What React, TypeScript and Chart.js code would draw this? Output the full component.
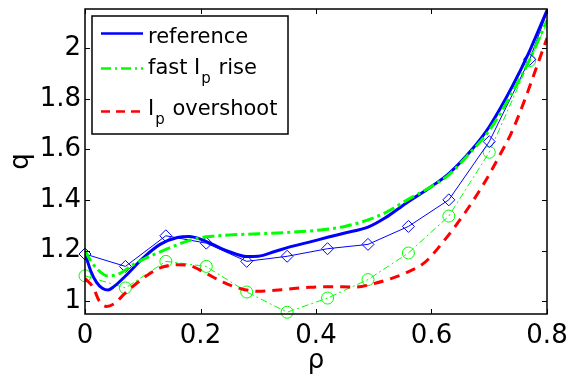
import React, { useEffect, useRef } from "react";
import { Chart, registerables } from "chart.js";
Chart.register(...registerables);

// ---- data ----
const xTicks = [0, 0.2, 0.4, 0.6, 0.8];
const yTicks = [1, 1.2, 1.4, 1.6, 1.8, 2];

const refRho = [0, 0.01, 0.02, 0.03, 0.04, 0.05, 0.07, 0.1, 0.13, 0.16, 0.18, 0.2, 0.22, 0.25, 0.28, 0.3, 0.33, 0.36, 0.39, 0.42, 0.45, 0.49, 0.52, 0.556, 0.6, 0.63, 0.67, 0.7, 0.74, 0.77, 0.8];
const refQ = [1.19, 1.12, 1.075, 1.052, 1.045, 1.058, 1.1, 1.17, 1.225, 1.252, 1.256, 1.246, 1.226, 1.196, 1.177, 1.178, 1.198, 1.218, 1.235, 1.253, 1.27, 1.293, 1.33, 1.388, 1.454, 1.505, 1.6, 1.69, 1.85, 1.99, 2.15];

const fastRho = [0, 0.01, 0.02, 0.04, 0.06, 0.08, 0.1, 0.14, 0.18, 0.21, 0.25, 0.3, 0.35, 0.4, 0.45, 0.49, 0.52, 0.556, 0.6, 0.63, 0.67, 0.7, 0.74, 0.77, 0.8];
const fastQ = [1.2, 1.16, 1.13, 1.1, 1.11, 1.14, 1.165, 1.205, 1.24, 1.255, 1.262, 1.267, 1.272, 1.28, 1.296, 1.322, 1.35, 1.398, 1.454, 1.5, 1.595, 1.675, 1.825, 1.955, 2.11];

const overRho = [0, 0.014, 0.025, 0.037, 0.05, 0.07, 0.1, 0.13, 0.16, 0.18, 0.21, 0.24, 0.27, 0.3, 0.34, 0.39, 0.42, 0.47, 0.5, 0.53, 0.556, 0.589, 0.623, 0.658, 0.692, 0.72, 0.738, 0.752, 0.767, 0.778, 0.8];
const overQ = [1.09, 1.055, 1.0, 0.98, 0.99, 1.033, 1.09, 1.132, 1.145, 1.142, 1.11, 1.075, 1.05, 1.04, 1.046, 1.056, 1.058, 1.057, 1.07, 1.09, 1.113, 1.155, 1.243, 1.35, 1.47, 1.585, 1.664, 1.74, 1.83, 1.9, 2.04];

const markRho = [0, 0.07, 0.14, 0.21, 0.28, 0.35, 0.42, 0.49, 0.56, 0.63, 0.7, 0.77, 0.8];
const refMarkQ = [1.187, 1.138, 1.259, 1.23, 1.158, 1.178, 1.208, 1.225, 1.296, 1.401, 1.631, 1.956, 2.14];
const fastMarkQ = [1.101, 1.053, 1.158, 1.138, 1.037, 0.957, 1.013, 1.086, 1.191, 1.337, 1.589, 1.951, 2.1];

const FONT = "'DejaVu Sans', sans-serif";
const BLUE = "#0000ff";
const GREEN = "#00ff00";
const RED = "#ff0000";

const pts = (xs: number[], ys: number[]) => xs.map((x, i) => ({ x, y: ys[i] }));

const boxPlugin = {
  id: "boxTicks",
  afterDatasetsDraw(chart: any) {
    const { ctx, chartArea: a, scales } = chart;
    ctx.save();
    ctx.strokeStyle = "#000";
    ctx.lineWidth = 1.5;
    ctx.strokeRect(a.left, a.top, a.right - a.left, a.bottom - a.top);
    ctx.lineWidth = 1;
    ctx.beginPath();
    for (const v of xTicks) {
      const px = Math.round(scales.x.getPixelForValue(v)) + 0.5;
      ctx.moveTo(px, a.bottom); ctx.lineTo(px, a.bottom - 5);
      ctx.moveTo(px, a.top); ctx.lineTo(px, a.top + 5);
    }
    for (const v of yTicks) {
      const py = Math.round(scales.y.getPixelForValue(v)) + 0.5;
      ctx.moveTo(a.left, py); ctx.lineTo(a.left + 5, py);
      ctx.moveTo(a.right, py); ctx.lineTo(a.right - 5, py);
    }
    ctx.stroke();
    ctx.restore();
  },
};

const legendItems = [
  { color: BLUE, dash: [] as number[], lineY: 33.5, base: 43, parts: [{ t: "reference", sub: false }] },
  { color: GREEN, dash: [10, 4, 2, 4], lineY: 68.5, base: 73.5, parts: [{ t: "fast I", sub: false }, { t: "p", sub: true }, { t: " rise", sub: false }] },
  { color: RED, dash: [9, 6], lineY: 111.5, base: 114.5, parts: [{ t: "I", sub: false }, { t: "p", sub: true }, { t: " overshoot", sub: false }] },
];

const legendPlugin = {
  id: "customLegend",
  afterDraw(chart: any) {
    const ctx = chart.ctx;
    ctx.save();
    ctx.fillStyle = "#fff";
    ctx.fillRect(92, 16, 196, 118);
    ctx.strokeStyle = "#000";
    ctx.lineWidth = 1.5;
    ctx.strokeRect(92, 16, 196, 118);
    for (const it of legendItems) {
      ctx.beginPath();
      ctx.strokeStyle = it.color;
      ctx.lineWidth = 2.5;
      ctx.setLineDash(it.dash);
      ctx.moveTo(101, it.lineY);
      ctx.lineTo(143, it.lineY);
      ctx.stroke();
      ctx.setLineDash([]);
      let x = 148;
      ctx.fillStyle = "#000";
      ctx.textBaseline = "alphabetic";
      ctx.textAlign = "left";
      for (const p of it.parts) {
        ctx.font = p.sub ? `15px ${FONT}` : `21px ${FONT}`;
        ctx.fillText(p.t, x, p.sub ? it.base + 9 : it.base);
        x += ctx.measureText(p.t).width + 1;
      }
    }
    ctx.restore();
  },
};

export default function App() {
  const ref = useRef<HTMLCanvasElement>(null);
  useEffect(() => {
    const canvas = ref.current!;
    const chart = new Chart(canvas, {
      type: "line",
      data: {
        datasets: [
          {
            label: "reference",
            data: pts(refRho, refQ),
            borderColor: BLUE,
            borderWidth: 3,
            pointRadius: 0,
            cubicInterpolationMode: "monotone",
            fill: false,
            order: 1,
          },
          {
            label: "fast Ip rise",
            data: pts(fastRho, fastQ),
            borderColor: GREEN,
            borderWidth: 3,
            borderDash: [12, 4, 3, 4],
            pointRadius: 0,
            cubicInterpolationMode: "monotone",
            fill: false,
            order: 0,
          },
          {
            label: "Ip overshoot",
            data: pts(overRho, overQ),
            borderColor: RED,
            borderWidth: 3,
            borderDash: [10, 7],
            pointRadius: 0,
            cubicInterpolationMode: "monotone",
            fill: false,
            order: 2,
          },
          {
            label: "reference (markers)",
            data: pts(markRho, refMarkQ),
            borderColor: BLUE,
            borderWidth: 1,
            pointStyle: "rectRot",
            pointRadius: markRho.map((_, i) => (i === markRho.length - 1 ? 0 : 6)),
            pointBorderColor: BLUE,
            pointBackgroundColor: "rgba(0,0,0,0)",
            pointBorderWidth: 1,
            tension: 0,
            fill: false,
            clip: false as any,
            order: 3,
          },
          {
            label: "fast Ip rise (markers)",
            data: pts(markRho, fastMarkQ),
            borderColor: GREEN,
            borderWidth: 1,
            borderDash: [7, 3, 2, 3],
            pointStyle: "circle",
            pointRadius: markRho.map((_, i) => (i === markRho.length - 1 ? 0 : 6)),
            pointBorderColor: GREEN,
            pointBackgroundColor: "rgba(0,0,0,0)",
            pointBorderWidth: 1,
            tension: 0,
            fill: false,
            clip: false as any,
            order: 4,
          },
        ],
      },
      options: {
        responsive: false,
        animation: false,
        events: [],
        layout: { padding: { left: 0, right: 21, top: 9, bottom: 0 } },
        plugins: { legend: { display: false }, tooltip: { enabled: false } },
        scales: {
          x: {
            type: "linear",
            min: 0,
            max: 0.8,
            grid: { display: false, drawTicks: false },
            border: { display: false },
            ticks: {
              color: "#000",
              font: { family: FONT, size: 26 },
              padding: 7,
              maxRotation: 0,
              callback: (v: any) => String(Math.round(Number(v) * 10) / 10),
            },
            title: { display: true, text: "ρ", color: "#000", font: { family: FONT, size: 26 }, padding: { top: 0, bottom: 2 } },
            afterBuildTicks: (s: any) => { s.ticks = xTicks.map((v) => ({ value: v })); },
            afterFit: (s: any) => { s.height = 65; s.paddingLeft = 0; s.paddingRight = 0; },
          },
          y: {
            type: "linear",
            min: 0.95,
            max: 2.155,
            grid: { display: false, drawTicks: false },
            border: { display: false },
            ticks: {
              color: "#000",
              font: { family: FONT, size: 26 },
              padding: 4,
              callback: (v: any) => String(Math.round(Number(v) * 10) / 10),
            },
            title: { display: true, text: "q", color: "#000", font: { family: FONT, size: 26 }, padding: { top: 6, bottom: 0 } },
            afterBuildTicks: (s: any) => { s.ticks = yTicks.map((v) => ({ value: v })); },
            afterFit: (s: any) => { s.width = 85; s.paddingTop = 0; s.paddingBottom = 0; },
          },
        },
      },
      plugins: [boxPlugin, legendPlugin],
    } as any);
    return () => chart.destroy();
  }, []);
  return (
    <div style={{ position: "fixed", left: 0, top: 0, width: 568, height: 379, background: "#fff" }}>
      <canvas ref={ref} width={568} height={379} style={{ display: "block" }} />
    </div>
  );
}
